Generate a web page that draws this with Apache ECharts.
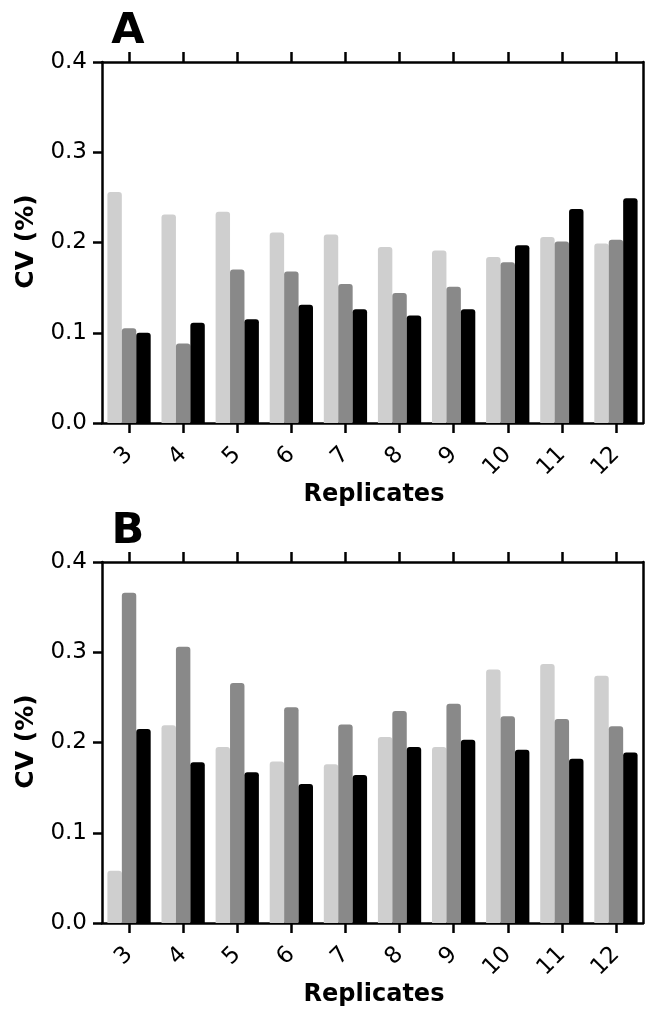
<!DOCTYPE html>
<html>
<head>
<meta charset="utf-8">
<script src="https://cdn.jsdelivr.net/npm/echarts@6/dist/echarts.min.js"></script>
<style>html,body{margin:0;padding:0;background:#fff;}#c{width:645px;height:1013px;}</style>
</head>
<body>
<div id="c"></div>
<script>
const categories = ['3','4','5','6','7','8','9','10','11','12'];
const lightA = [0.256,0.231,0.234,0.211,0.209,0.195,0.191,0.184,0.206,0.199];
const midA   = [0.105,0.088,0.170,0.168,0.154,0.144,0.151,0.178,0.201,0.203];
const darkA  = [0.100,0.111,0.115,0.131,0.126,0.119,0.126,0.197,0.237,0.249];
const lightB = [0.058,0.219,0.195,0.179,0.176,0.206,0.195,0.281,0.287,0.274];
const midB   = [0.366,0.306,0.266,0.239,0.220,0.235,0.243,0.229,0.226,0.218];
const darkB  = [0.215,0.178,0.167,0.154,0.164,0.195,0.203,0.192,0.182,0.189];
const yMin = 0, yMax = 0.4, yStep = 0.1;
const panelLabels = ['A','B'];
const xTitle = 'Replicates';
const yTitle = 'CV (%)';

const FONT = 'DejaVu Sans';
const colors = ['#cfcfcf','#898989','#000000'];
const LW = 2.5;
const grids = [
  {left:102, top:62, width:541, height:361},
  {left:102, top:562, width:541, height:361}
];
const xAxes = [], yAxes = [], series = [];
grids.forEach((g, i) => {
  xAxes.push({
    type:'category', gridIndex:i, data:categories, position:'bottom',
    axisLine:{onZero:false, lineStyle:{color:'#000', width:LW}},
    axisTick:{show:true, interval:0, alignWithLabel:true, length:10, lineStyle:{color:'#000', width:LW}},
    axisLabel:{interval:0, rotate:45, margin:28, color:'#000', fontFamily:FONT, fontSize:23},
    splitLine:{show:false}
  });
  xAxes.push({
    type:'category', gridIndex:i, data:categories, position:'top',
    axisLine:{onZero:false, lineStyle:{color:'#000', width:LW}},
    axisTick:{show:true, interval:0, inside:false, alignWithLabel:true, length:10, lineStyle:{color:'#000', width:LW}},
    axisLabel:{show:true, interval:0, color:'rgba(0,0,0,0)', fontSize:1}, splitLine:{show:false}
  });
  yAxes.push({
    type:'value', gridIndex:i, min:yMin, max:yMax, interval:yStep, position:'left',
    axisLine:{show:true, onZero:false, lineStyle:{color:'#000', width:LW}},
    axisTick:{show:true, length:9, lineStyle:{color:'#000', width:LW}},
    axisLabel:{margin:15, color:'#000', fontFamily:FONT, fontSize:23, formatter:v=>v.toFixed(1)},
    splitLine:{show:false}
  });
  yAxes.push({
    type:'value', gridIndex:i, min:yMin, max:yMax, interval:yStep, position:'right',
    axisLine:{show:true, onZero:false, lineStyle:{color:'#000', width:LW}},
    axisTick:{show:false}, axisLabel:{show:false}, splitLine:{show:false}
  });
});
const data = [[lightA, midA, darkA],[lightB, midB, darkB]];
data.forEach((set, i) => {
  set.forEach((vals, k) => {
    series.push({
      type:'bar', name:'Series '+(k+1), xAxisIndex:i*2, yAxisIndex:i*2,
      data:vals, barGap:'0%', barCategoryGap:'20%',
      itemStyle:{color:colors[k], borderRadius:[3,3,0,0]},
      silent:true
    });
  });
});
const graphic = [];
grids.forEach((g, i) => {
  graphic.push({type:'text', x:128, y:g.top-30, style:{text:panelLabels[i], font:'bold 43px "'+FONT+'"', fill:'#000', textAlign:'center', textVerticalAlign:'middle'}});
  graphic.push({type:'text', x:374, y:g.top+g.height+72, style:{text:xTitle, font:'bold 24px "'+FONT+'"', fill:'#000', textAlign:'center', textVerticalAlign:'middle'}});
  graphic.push({type:'text', x:26, y:g.top+g.height/2-1, rotation:Math.PI/2, style:{text:yTitle, font:'bold 25px "'+FONT+'"', fill:'#000', textAlign:'center', textVerticalAlign:'middle'}});
});
const chart = echarts.init(document.getElementById('c'), null, {renderer:'canvas'});
chart.setOption({
  animation:false,
  backgroundColor:'#fff',
  grid:grids, xAxis:xAxes, yAxis:yAxes, series:series, graphic:graphic
});
</script>
</body>
</html>
